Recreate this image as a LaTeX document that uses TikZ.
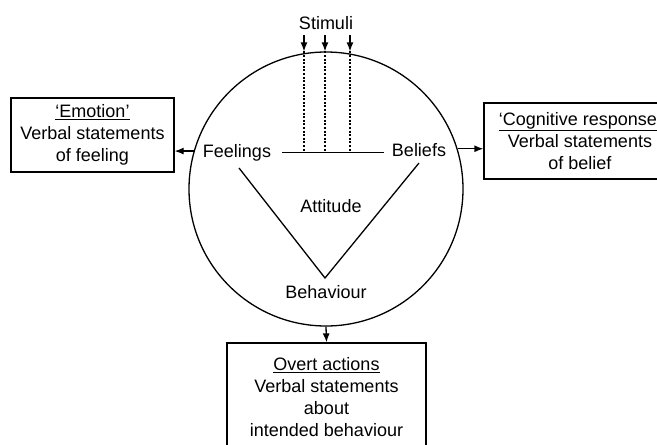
\documentclass[tikz,border=0pt]{standalone}
\usepackage{fontspec}
\setmainfont{Liberation Sans}
\usetikzlibrary{arrows.meta}
\begin{document}
\begin{tikzpicture}[x=1pt, y=-1pt, line width=1.3pt,
  every node/.style={font=\fontsize{18}{22}\selectfont, inner sep=0pt},
  lbl/.style={anchor=base},
  box/.style={draw, align=center, line width=1.3pt},
  arr/.style={-{Latex[length=9pt,width=7pt]}},
  dots/.style={line width=1.2pt, dash pattern=on 2pt off 1.6pt}]
\useasboundingbox (0,0) rectangle (657,445);

% the attitude circle
\node[draw, circle, minimum size=274pt] (circ) at (326,189) {};

% labels inside and above the circle
\node[lbl] (stim) at (326,29) {Stimuli};
\node[lbl] (feel) at (237,157) {Feelings};
\node[lbl] (bel) at (419,156) {Beliefs};
\node[lbl] (att) at (331,212) {Attitude};
\node[lbl] (beh) at (326,298) {Behaviour};

% bar between feelings and beliefs, and the V down to behaviour
\coordinate (h1) at (282,152.5);
\coordinate (h2) at (384,152.5);
\draw (h1) -- (h2);
\coordinate (v1) at (239,168);
\coordinate (v2) at (325,278);
\coordinate (v3) at (419,163);
\draw (v1) -- (v2) -- (v3);

% stimuli entering the circle
\foreach \i/\x in {1/304, 2/325, 3/350} {
  \coordinate (s\i) at (\x,35);
  \draw[arr] (s\i) -- (s\i |- circ.north);
  \draw[dots] (s\i |- circ.north) -- (s\i |- h1);
}

% response boxes
\node[box, minimum width=163pt, minimum height=74pt] (lbox) at (92.5,135)
  {\underline{`Emotion'}\\Verbal statements\\of feeling};
\node[box, minimum width=192pt, minimum height=76pt] (rbox) at (580,141)
  {\underline{`Cognitive response'}\\Verbal statements\\of belief};
\node[box, minimum width=199pt, minimum height=108pt] (bbox) at (326.5,397)
  {\underline{Overt actions}\\Verbal statements\\about\\intended behaviour};

% connectors from the circle to the boxes
\draw[arr] (circ.164) -- (circ.164 -| lbox.east);
\draw[arr] (circ.17) -- (circ.17 -| rbox.west);
\draw[arr] (circ.south) -- (bbox.north);
\end{tikzpicture}
\end{document}
